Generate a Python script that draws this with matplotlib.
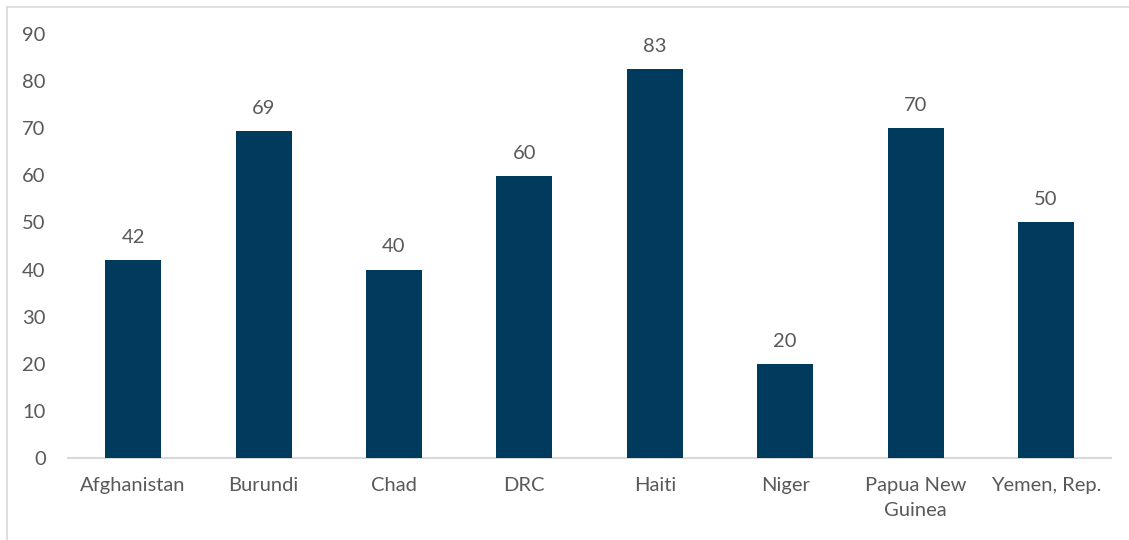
import matplotlib
matplotlib.use("Agg")
import matplotlib.pyplot as plt
from matplotlib.lines import Line2D

countries = ["Afghanistan", "Burundi", "Chad", "DRC", "Haiti", "Niger",
             "Papua New\nGuinea", "Yemen, Rep."]
values = [42, 69.4, 40, 59.8, 82.6, 20, 70, 50]
yticks = [0, 10, 20, 30, 40, 50, 60, 70, 80, 90]

bar_color = "#003a5c"
text_color = "#595959"

plt.rcParams['font.family'] = ['Lato', 'DejaVu Sans']

fig = plt.figure(figsize=(11.29, 5.40), dpi=100)
ax = fig.add_axes([0.0602, 0.152, 0.924, 0.785])

x = range(len(countries))
bars = ax.bar(x, values, width=0.43, color=bar_color, zorder=3)
for b, v in zip(bars, values):
    ax.text(b.get_x() + b.get_width() / 2, v + 3.0, "%.0f" % v,
            ha="center", va="bottom", fontsize=14.5, color=text_color)

ax.set_xlim(-0.5, len(countries) - 0.5)
ax.set_ylim(0, 90)
ax.set_yticks(yticks)
ax.set_yticklabels([str(t) for t in yticks], fontsize=14.5, color=text_color)
ax.set_xticks(list(x))
ax.set_xticklabels(countries, fontsize=14.5, color=text_color, linespacing=1.55)
ax.tick_params(axis="both", length=0)
ax.tick_params(axis="y", pad=16)
ax.tick_params(axis="x", pad=14)

for s in ["top", "right", "left"]:
    ax.spines[s].set_visible(False)
ax.spines["bottom"].set_color("#d9d9d9")
ax.spines["bottom"].set_linewidth(1.5)

# outer chart frame (only left and top edges fall inside the picture)
fig.add_artist(Line2D([7 / 1129, 7 / 1129], [0, 1 - 7 / 540],
                      transform=fig.transFigure, color="#d9d9d9", lw=1.2))
fig.add_artist(Line2D([7 / 1129, 1], [1 - 7 / 540, 1 - 7 / 540],
                      transform=fig.transFigure, color="#d9d9d9", lw=1.2))

fig.savefig("out.png", dpi=100)
